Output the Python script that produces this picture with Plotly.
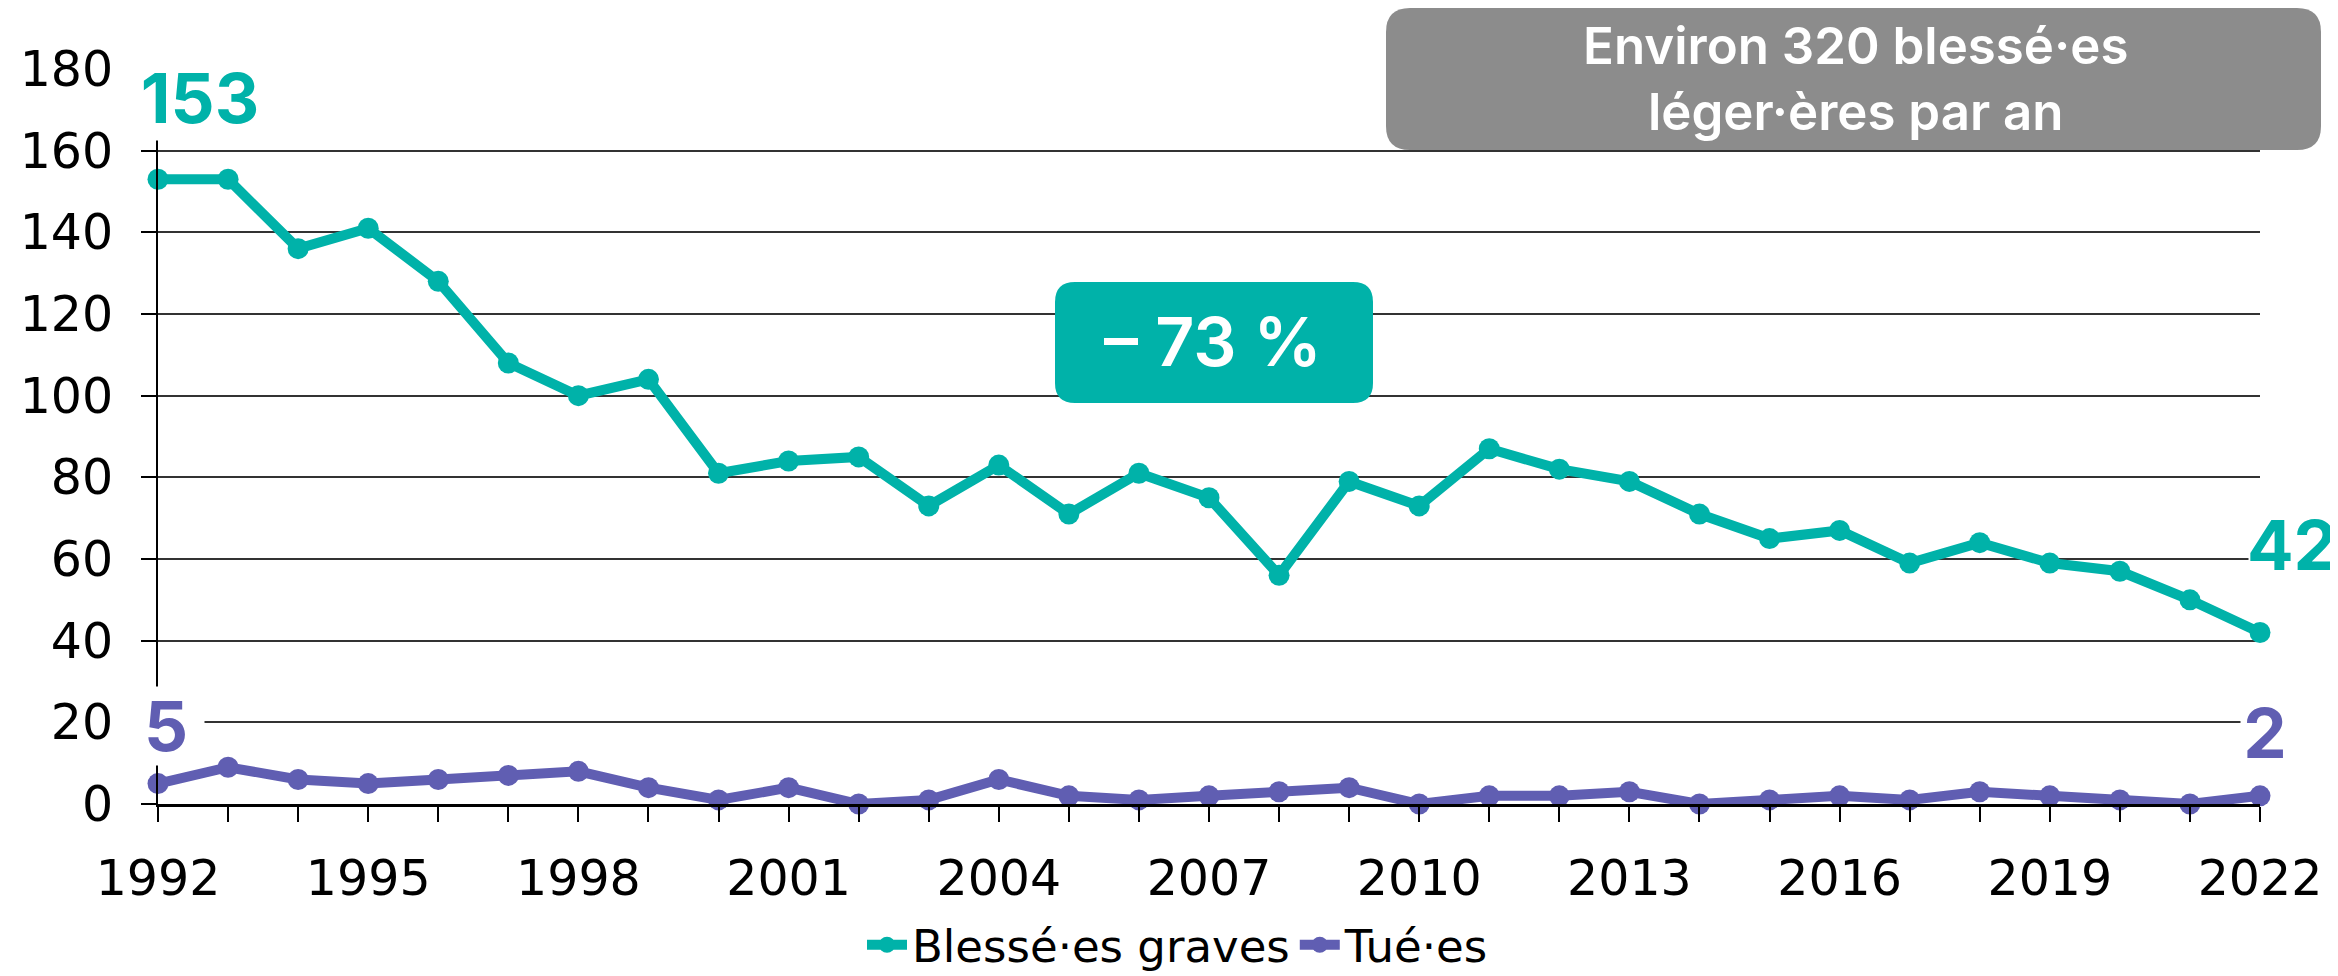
import plotly.graph_objects as go

years = list(range(1992, 2023))
blesses_graves = [153, 153, 136, 141, 128, 108, 100, 104, 81, 84, 85, 73, 83, 71, 81, 75, 56,
                  79, 73, 87, 82, 79, 71, 65, 67, 59, 64, 59, 57, 50, 42]
tues = [5, 9, 6, 5, 6, 7, 8, 4, 1, 4, 0, 1, 6, 2, 1, 2, 3, 4, 0, 2, 2, 3, 0, 1, 2, 1, 3, 2, 1, 0, 2]
x_tick_labels = [str(y) if (y - 1992) % 3 == 0 else "" for y in years]
y_ticks = [0, 20, 40, 60, 80, 100, 120, 140, 160, 180]

TEAL = "#00B2A9"
PURPLE = "#605EB2"
GRAY = "#8C8C8C"

# page body has an 8px margin: figure sits at (8, 8) on the screen
OFF = 8
W, H = 2338 - OFF, 976 - OFF
# plot area in screen pixels
SX0, SX1, SY0, SY1 = 158, 2260, 69, 804
ML, MT = SX0 - OFF, SY0 - OFF
MR = W - (SX1 - OFF)
MB = H - (SY1 - OFF)
PW, PH = SX1 - SX0, SY1 - SY0


def px2paper(px, py):
    return (px - SX0) / PW, (SY1 - py) / PH


def rounded_rect(x0, y0, x1, y1, r):
    def P(x, y):
        a, b = px2paper(x, y)
        return f"{a:.5f},{b:.5f}"
    return (f"M {P(x0 + r, y0)} L {P(x1 - r, y0)} Q {P(x1, y0)} {P(x1, y0 + r)} "
            f"L {P(x1, y1 - r)} Q {P(x1, y1)} {P(x1 - r, y1)} "
            f"L {P(x0 + r, y1)} Q {P(x0, y1)} {P(x0, y1 - r)} "
            f"L {P(x0, y0 + r)} Q {P(x0, y0)} {P(x0 + r, y0)} Z")


fig = go.Figure()
fig.add_trace(go.Scatter(x=years, y=blesses_graves, mode="lines+markers", name="Blessé·es graves",
                         line=dict(color=TEAL, width=10), marker=dict(color=TEAL, size=21),
                         cliponaxis=False))
fig.add_trace(go.Scatter(x=years, y=tues, mode="lines+markers", name="Tué·es",
                         line=dict(color=PURPLE, width=10), marker=dict(color=PURPLE, size=21),
                         cliponaxis=False))

tick_font = dict(family="DejaVu Sans", size=49, color="black")

fig.update_xaxes(range=[1992, 2022], tickmode="array", tickvals=years, ticktext=x_tick_labels,
                 ticks="outside", ticklen=15, tickwidth=2, tickcolor="black",
                 showline=True, linecolor="black", linewidth=2.5, showgrid=False, zeroline=False,
                 tickfont=tick_font, ticklabelstandoff=14)
fig.update_yaxes(range=[0, 180], tickmode="array", tickvals=y_ticks,
                 ticks="outside", ticklen=15, tickwidth=2, tickcolor="black",
                 showline=True, linecolor="black", linewidth=2, showgrid=True,
                 gridcolor="#333333", gridwidth=1.6, zeroline=False,
                 tickfont=tick_font, ticklabelstandoff=18)

shapes = [
    dict(type="path", xref="paper", yref="paper", path=rounded_rect(1055, 282, 1373, 403, 20),
         fillcolor=TEAL, line=dict(width=0), layer="above"),
    dict(type="path", xref="paper", yref="paper", path=rounded_rect(1386, 8, 2321, 150, 24),
         fillcolor=GRAY, line=dict(width=0), layer="above"),
]

ann = []
bx, by = px2paper(1213, 341)
ann.append(dict(x=bx, y=by, xref="paper", yref="paper", xanchor="center", yanchor="middle",
                text="– 73 %", showarrow=False,
                font=dict(family="Inter", size=68, color="white", weight=600)))
gx, gy = px2paper(1855, 78)
ann.append(dict(x=gx, y=gy, xref="paper", yref="paper", xanchor="center", yanchor="middle",
                text="Environ 320 blessé·es<br>léger·ères par an",
                showarrow=False, font=dict(family="Inter", size=51, color="white", weight=600)))

lab_font = dict(family="Inter", size=69, weight=700)
ann.append(dict(x=years[0], y=blesses_graves[0], xref="x", yref="y", text=str(blesses_graves[0]),
                xanchor="center", yanchor="middle",
                showarrow=False, xshift=42, yshift=81, width=172, height=84, borderpad=0,
                bgcolor="white", font=dict(color=TEAL, **lab_font)))
ann.append(dict(x=years[-1], y=blesses_graves[-1], xref="x", yref="y", text=str(blesses_graves[-1]),
                xanchor="center", yanchor="middle",
                showarrow=False, xshift=32, yshift=88, width=86, height=62, borderpad=0,
                bgcolor="white", font=dict(color=TEAL, **lab_font)))
ann.append(dict(x=years[0], y=tues[0], xref="x", yref="y", text=str(tues[0]),
                xanchor="center", yanchor="middle",
                showarrow=False, xshift=8, yshift=58, width=76, height=78, borderpad=0,
                bgcolor="white", font=dict(color=PURPLE, **lab_font)))
ann.append(dict(x=years[-1], y=tues[-1], xref="x", yref="y", text=str(tues[-1]),
                xanchor="center", yanchor="middle",
                showarrow=False, xshift=5, yshift=63, width=48, height=62, borderpad=0,
                bgcolor="white", font=dict(color=PURPLE, **lab_font)))

lx, ly = px2paper(1178, 945)
fig.update_layout(
    width=W, height=H, margin=dict(l=ML, r=MR, t=MT, b=MB, autoexpand=False),
    paper_bgcolor="white", plot_bgcolor="white",
    shapes=shapes, annotations=ann,
    legend=dict(orientation="h", x=lx, xanchor="center", y=ly, yanchor="middle",
                font=dict(family="DejaVu Sans", size=45, color="black"), itemwidth=40),
    showlegend=True,
)

fig.write_html("out.html")
